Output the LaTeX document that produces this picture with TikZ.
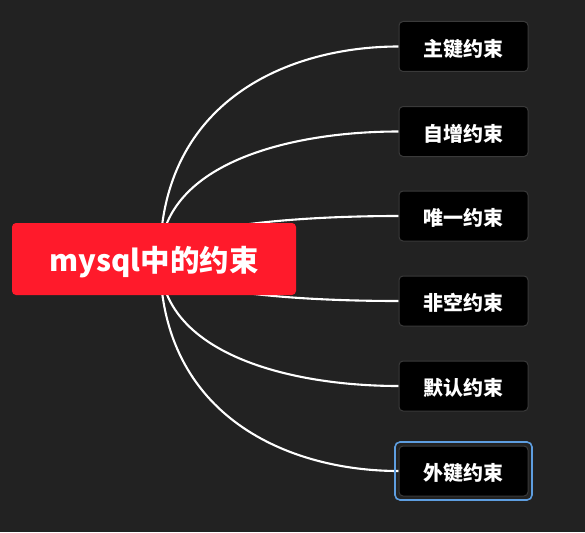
\documentclass[tikz,border=0pt]{standalone}
\usepackage{fontspec}
\setmainfont{Noto Sans CJK SC}
\usetikzlibrary{fit,calc}
\definecolor{bgc}{HTML}{222222}
\definecolor{rootred}{HTML}{FF1A2B}
\definecolor{boxedge}{HTML}{3A3A3A}
\definecolor{selblue}{HTML}{5E9EE0}
\pgfdeclarelayer{bglayer}
\pgfdeclarelayer{linelayer}
\pgfsetlayers{bglayer,linelayer,main}
\newcommand{\dn}[2]{\raisebox{-#1pt}[\height][\depth]{#2}}
\tikzset{
  rootbox/.style={fill=rootred, rounded corners=4pt, minimum width=284pt, minimum height=72pt,
    inner sep=0pt, text=white, font=\bfseries\fontsize{29.5}{31}\selectfont},
  leafbox/.style={fill=black, draw=boxedge, line width=1pt, rounded corners=4pt,
    minimum width=129pt, minimum height=50pt, inner sep=0pt, text=white,
    font=\bfseries\fontsize{20}{22}\selectfont},
  link/.style={draw=white, line width=2.1pt},
  selring/.style={draw=selblue, line width=1.6pt, rounded corners=5pt, inner sep=3.5pt}
}
\begin{document}
\begin{tikzpicture}[x=1pt,y=-1pt]
\begin{pgfonlayer}{bglayer}
\fill[bgc] (0,0) rectangle (585,532);
\end{pgfonlayer}
\useasboundingbox (0,0) rectangle (585,532);
\node[rootbox] (root) at (154,259) {\dn{3}{mysql中的约束}};
\coordinate (hub) at (160,259);
\node[leafbox] (c1) at (463.5,46.5) {\dn{2}{主键约束}};
\node[leafbox] (c2) at (463.5,131.5) {\dn{2}{自增约束}};
\node[leafbox] (c3) at (463.5,216) {\dn{2}{唯一约束}};
\node[leafbox] (c4) at (463.5,301) {\dn{2}{非空约束}};
\node[leafbox] (c5) at (463.5,386) {\dn{2}{默认约束}};
\node[leafbox] (c6) at (463.5,471) {\dn{2}{外键约束}};
\node[selring, fit=(c6)] (sel) {};
\begin{pgfonlayer}{linelayer}
\foreach \c/\d in {c1/-160, c2/-96, c3/-32, c4/32, c5/95, c6/159}{
  \draw[link] (hub) .. controls +(0,\d) and +(-108,0) .. (\c.west);
}
\end{pgfonlayer}
\end{tikzpicture}
\end{document}
